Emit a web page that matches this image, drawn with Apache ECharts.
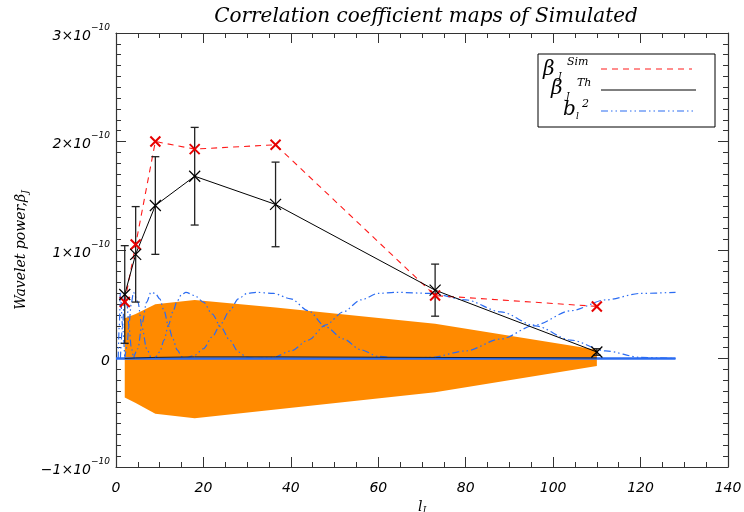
<!DOCTYPE html>
<html>
<head>
<meta charset="utf-8">
<script src="https://cdn.jsdelivr.net/npm/echarts@6/dist/echarts.min.js"></script>
<style>html,body{margin:0;padding:0;background:#fff}#chart{width:744px;height:512px}</style>
</head>
<body>
<div id="chart"></div>
<script>
// all power values are in units of 1e-10
var lJ = [2, 4.5, 9, 18, 36.5, 73, 110];
var betaSim = [0.52, 1.05, 2.00, 1.93, 1.97, 0.58, 0.48];
var betaTh = [0.59, 0.96, 1.41, 1.68, 1.42, 0.63, 0.06];
var errTh = [0.45, 0.44, 0.45, 0.45, 0.39, 0.24, 0.03];
var bandUp = [0.37, 0.41, 0.50, 0.54, 0.47, 0.32, 0.08];
var bandLo = [-0.36, -0.41, -0.51, -0.55, -0.47, -0.31, -0.07];
var thLow = [0, 0.005, 0.01, 0.015, 0.015, 0.01, 0.005];

// needlet windows b_l^2 (scaled)
var win0 = [[0.5, 0], [0.75, 0.3], [1, 0.61], [1.5, 0.3], [2, 0]];
var win1 = [[1, 0], [1.5, 0.3], [2, 0.61], [2.5, 0.5], [3, 0.28], [3.5, 0.1], [4, 0]];
var win2 = [[2, 0], [2.5, 0.11], [3, 0.33], [3.5, 0.51], [4, 0.61], [5, 0.52], [6, 0.28], [7, 0.09], [8, 0]];
var win3 = [[4, 0], [5, 0.09], [6, 0.33], [7, 0.52], [8, 0.61], [9, 0.6], [10, 0.55], [11, 0.44], [12, 0.3], [13, 0.18], [14, 0.08], [15, 0.02], [16, 0]];
var win4 = [[8, 0], [9, 0.01], [10, 0.06], [11, 0.17], [12, 0.31], [13, 0.43], [14, 0.53], [15, 0.59], [16, 0.61], [18, 0.58], [20, 0.52], [22, 0.41], [24, 0.29], [26, 0.17], [28, 0.06], [30, 0.01], [32, 0]];
var win5 = [[16, 0], [18, 0.03], [20, 0.09], [22, 0.2], [24, 0.32], [26, 0.44], [28, 0.55], [30, 0.6], [32, 0.61], [36, 0.6], [40, 0.55], [44, 0.44], [48, 0.29], [52, 0.18], [56, 0.08], [60, 0.02], [64, 0]];
var win6 = [[32, 0], [36, 0.01], [40, 0.07], [44, 0.17], [48, 0.31], [52, 0.43], [56, 0.54], [60, 0.6], [64, 0.61], [72, 0.6], [80, 0.54], [88, 0.43], [96, 0.3], [104, 0.17], [112, 0.07], [120, 0.01], [128, 0]];
var win7 = [[64, 0], [72, 0.01], [80, 0.07], [88, 0.18], [96, 0.31], [104, 0.44], [112, 0.54], [120, 0.6], [128, 0.61]];
var windows = [win0, win1, win2, win3, win4, win5, win6, win7];
var baseline = [[0, 0], [128, 0]];

var RED = '#ff1a1a';
var BLUE = '#2b6cf2';
var ORANGE = '#ff8a00';
var blueDash = [7, 3, 1.5, 3, 1.5, 3];

var chart = echarts.init(document.getElementById('chart'));

function pairs(ys) {
	return lJ.map(function (l, i) { return [l, ys[i]]; });
}

var tickFont = { fontFamily: 'DejaVu Sans', fontStyle: 'italic', fontSize: 14, color: '#000' };

function axisBase(extra) {
	var ax = {
		type: 'value',
		axisLine: { onZero: false, lineStyle: { color: '#333', width: 1.2 } },
		axisTick: { inside: true, length: 10, lineStyle: { color: '#333' } },
		minorTick: { show: true, length: 5, lineStyle: { color: '#333' } },
		splitLine: { show: false }
	};
	return Object.assign(ax, extra);
}

var crossItem = function (color, half, width) {
	return function (params, api) {
		var p = api.coord([api.value(0), api.value(1)]);
		return {
			type: 'group',
			children: [
				{ type: 'line', shape: { x1: p[0] - half, y1: p[1] - half, x2: p[0] + half, y2: p[1] + half }, style: { stroke: color, lineWidth: width } },
				{ type: 'line', shape: { x1: p[0] - half, y1: p[1] + half, x2: p[0] + half, y2: p[1] - half }, style: { stroke: color, lineWidth: width } }
			]
		};
	};
};

var series = [];

// orange band
series.push({
	type: 'custom',
	data: lJ.map(function (l, i) { return [l, bandLo[i], bandUp[i]]; }),
	encode: { x: 0, y: [1, 2] },
	z: 1,
	silent: true,
	renderItem: function (params, api) {
		if (params.dataIndex !== 0) return;
		var pts = [];
		lJ.forEach(function (l, i) { pts.push(api.coord([l, bandUp[i]])); });
		for (var i = lJ.length - 1; i >= 0; i--) pts.push(api.coord([lJ[i], bandLo[i]]));
		return { type: 'polygon', shape: { points: pts }, style: { fill: ORANGE } };
	}
});

windows.forEach(function (w) {
	series.push({
		type: 'line', data: w, showSymbol: false, smooth: 0.3, smoothMonotone: 'x', z: 3,
		lineStyle: { color: BLUE, width: 1.2, type: blueDash }
	});
});
series.push({ type: 'line', data: baseline, showSymbol: false, z: 3, lineStyle: { color: BLUE, width: 2.5 } });
series.push({ type: 'line', data: pairs(thLow), showSymbol: false, z: 4, lineStyle: { color: '#222', width: 1 } });

series.push({ type: 'line', data: pairs(betaSim), showSymbol: false, z: 5, lineStyle: { color: RED, width: 1.1, type: [6, 5] } });
series.push({ type: 'line', data: pairs(betaTh), showSymbol: false, z: 5, lineStyle: { color: '#000', width: 1 } });

// error bars
series.push({
	type: 'custom',
	data: lJ.map(function (l, i) { return [l, betaTh[i] - errTh[i], betaTh[i] + errTh[i]]; }),
	encode: { x: 0, y: [1, 2] },
	z: 6,
	renderItem: function (params, api) {
		var lo = api.coord([api.value(0), api.value(1)]);
		var hi = api.coord([api.value(0), api.value(2)]);
		var st = { stroke: '#222', lineWidth: 1.3 };
		return {
			type: 'group',
			children: [
				{ type: 'line', shape: { x1: lo[0], y1: lo[1], x2: hi[0], y2: hi[1] }, style: st },
				{ type: 'line', shape: { x1: lo[0] - 4, y1: lo[1], x2: lo[0] + 4, y2: lo[1] }, style: st },
				{ type: 'line', shape: { x1: hi[0] - 4, y1: hi[1], x2: hi[0] + 4, y2: hi[1] }, style: st }
			]
		};
	}
});
series.push({ type: 'custom', data: pairs(betaSim), encode: { x: 0, y: 1 }, z: 7, renderItem: crossItem('#e60000', 5, 2) });
series.push({ type: 'custom', data: pairs(betaTh), encode: { x: 0, y: 1 }, z: 8, renderItem: crossItem('#000', 5.5, 1.2) });

var legendFont = 'DejaVu Serif';
function gtext(t, x, y, size) {
	return { type: 'text', z: 102, style: { text: t, x: x, y: y, fontSize: size, fontFamily: legendFont, fontStyle: 'italic', fill: '#000', align: 'left', verticalAlign: 'middle' } };
}

var richName = {
	a: { fontFamily: 'DejaVu Serif', fontStyle: 'italic', fontSize: 14, color: '#000' },
	s: { fontFamily: 'DejaVu Serif', fontStyle: 'italic', fontSize: 9, color: '#000', padding: [8, 0, 0, 0] }
};

var option = {
	animation: false,
	backgroundColor: '#fff',
	grid: { left: 116, right: 16, top: 33, bottom: 45, containLabel: false, outerBoundsMode: 'none' },
	xAxis: [
		axisBase({
			min: 0, max: 140, interval: 20, position: 'bottom',
			minorTick: { show: true, splitNumber: 4, length: 5, lineStyle: { color: '#333' } },
			axisLabel: Object.assign({ margin: 14 }, tickFont),
			name: '{a|l}{s|J}', nameLocation: 'middle', nameGap: 26,
			nameTextStyle: { rich: richName }
		}),
		axisBase({
			min: 0, max: 140, interval: 20, position: 'top',
			minorTick: { show: true, splitNumber: 4, length: 5, lineStyle: { color: '#333' } },
			axisLabel: { show: false }
		})
	],
	yAxis: [
		axisBase({
			min: -1, max: 3, interval: 1, position: 'left',
			minorTick: { show: true, splitNumber: 10, length: 5, lineStyle: { color: '#333' } },
			axisLabel: {
				margin: 6,
				formatter: function (v) {
					if (v === 0) return '{n|0}';
					return '{n|' + (v < 0 ? '−' : '') + Math.abs(v) + '×10}{e|−10}';
				},
				rich: {
					n: { fontFamily: 'DejaVu Sans', fontStyle: 'italic', fontSize: 14, lineHeight: 20, verticalAlign: 'bottom', color: '#000' },
					e: { fontFamily: 'DejaVu Sans', fontStyle: 'italic', fontSize: 9, lineHeight: 20, verticalAlign: 'top', color: '#000' }
				}
			},
			name: '{a|Wavelet power,β}{s|J}', nameLocation: 'middle', nameGap: 86, nameRotate: 90,
			nameTextStyle: { rich: richName }
		}),
		axisBase({
			min: -1, max: 3, interval: 1, position: 'right',
			minorTick: { show: true, splitNumber: 10, length: 5, lineStyle: { color: '#333' } },
			axisLabel: { show: false }
		})
	],
	graphic: [
		{ type: 'text', z: 102, style: { text: 'Correlation coefficient maps of Simulated', x: 426, y: 17, fontSize: 20, fontFamily: 'DejaVu Serif', fontStyle: 'italic', fill: '#000', align: 'center', verticalAlign: 'middle' } },
		{ type: 'rect', z: 100, shape: { x: 538, y: 54, width: 177, height: 73 }, style: { fill: '#fff', stroke: '#000', lineWidth: 1 } },
		{ type: 'line', z: 101, shape: { x1: 601, y1: 69, x2: 692, y2: 69 }, style: { stroke: RED, lineWidth: 1, lineDash: [6, 5] } },
		{ type: 'line', z: 101, shape: { x1: 601, y1: 90, x2: 696, y2: 90 }, style: { stroke: '#000', lineWidth: 1 } },
		{ type: 'line', z: 101, shape: { x1: 601, y1: 111, x2: 696, y2: 111 }, style: { stroke: BLUE, lineWidth: 1.2, lineDash: blueDash } },
		gtext('β', 543, 70, 20), gtext('J', 558, 77, 9), gtext('Sim', 567, 62, 11),
		gtext('β', 551, 89, 20), gtext('J', 566, 97, 9), gtext('Th', 577, 83, 11),
		gtext('b', 563, 110, 20), gtext('l', 576, 117, 9), gtext('2', 582, 104, 11)
	],
	series: series
};

chart.setOption(option);
</script>
</body>
</html>
